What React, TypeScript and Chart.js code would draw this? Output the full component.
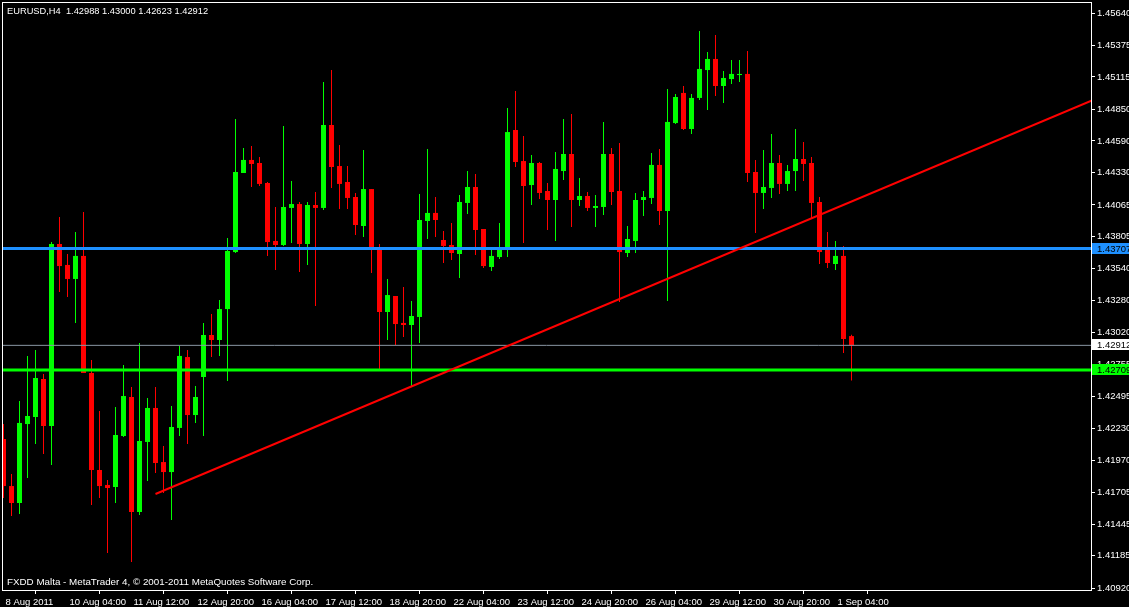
import React, { useEffect, useRef } from 'react';
import { Chart, registerables } from 'chart.js';

Chart.register(...registerables);

const SYMBOL = 'EURUSD,H4';
const FOOTER = 'FXDD Malta - MetaTrader 4, \u00a9 2001-2011 MetaQuotes Software Corp.';

const opens = [
  1.42143, 1.41757, 1.41618, 1.42266, 1.42324, 1.42636, 1.42250, 1.43744, 1.43572, 1.43457,
  1.43646, 1.42685, 1.41889, 1.41766, 1.41749, 1.42168, 1.42488, 1.41544, 1.42119, 1.42398,
  1.41954, 1.41872, 1.42234, 1.42816, 1.42340, 1.42652, 1.42997, 1.42956, 1.43210, 1.43678,
  1.44327, 1.44434, 1.44409, 1.44245, 1.43769, 1.43736, 1.44040, 1.44072, 1.43744, 1.44064,
  1.44040, 1.44721, 1.44384, 1.44253, 1.44130, 1.43892, 1.44195, 1.43703, 1.43186, 1.43317,
  1.43096, 1.43079, 1.43145, 1.43933, 1.43999, 1.43777, 1.43736, 1.43662, 1.44081, 1.44212,
  1.43867, 1.43555, 1.43637, 1.43711, 1.44680, 1.44425, 1.44228, 1.44409, 1.44179, 1.44105,
  1.44343, 1.44483, 1.44105, 1.44138, 1.44040, 1.44048, 1.44483, 1.44179, 1.43670, 1.43769,
  1.44105, 1.44122, 1.44393, 1.44015, 1.44737, 1.44984, 1.44688, 1.44943, 1.45172, 1.45263,
  1.45041, 1.45098, 1.45131, 1.45140, 1.44335, 1.44163, 1.44204, 1.44409, 1.44237, 1.44343,
  1.44442, 1.44409, 1.44089, 1.43695, 1.43580, 1.43646, 1.42988,
];

const highs = [
  1.42266, 1.41856, 1.42455, 1.42825, 1.42874, 1.42677, 1.43760, 1.43966, 1.43662, 1.43843,
  1.44007, 1.42792, 1.42373, 1.41807, 1.42406, 1.42751, 1.42570, 1.42931, 1.42480, 1.42570,
  1.42086, 1.42414, 1.42907, 1.42874, 1.42578, 1.43096, 1.43169, 1.43284, 1.43793, 1.44770,
  1.44532, 1.44549, 1.44458, 1.44253, 1.44048, 1.44713, 1.44261, 1.44089, 1.44089, 1.44171,
  1.45074, 1.45172, 1.44557, 1.44384, 1.44163, 1.44516, 1.44195, 1.43744, 1.43457, 1.43317,
  1.43391, 1.43276, 1.44155, 1.44524, 1.44130, 1.43851, 1.43916, 1.44146, 1.44343, 1.44319,
  1.43867, 1.43695, 1.43916, 1.44860, 1.45000, 1.44631, 1.44475, 1.44417, 1.44245, 1.44499,
  1.44770, 1.44811, 1.44286, 1.44171, 1.44146, 1.44746, 1.44532, 1.44573, 1.43892, 1.44163,
  1.44179, 1.44491, 1.44524, 1.45016, 1.44975, 1.45041, 1.44975, 1.45493, 1.45320, 1.45460,
  1.45164, 1.45254, 1.45254, 1.45328, 1.44434, 1.44516, 1.44647, 1.44475, 1.44393, 1.44688,
  1.44581, 1.44458, 1.44130, 1.43843, 1.43769, 1.43728, 1.43000,
];

const lows = [
  1.41659, 1.41511, 1.41528, 1.41823, 1.42102, 1.42020, 1.41930, 1.43350, 1.43309, 1.43096,
  1.42685, 1.41602, 1.41659, 1.41207, 1.41618, 1.42160, 1.41134, 1.41519, 1.41799, 1.41864,
  1.41700, 1.41478, 1.42168, 1.42102, 1.42275, 1.42168, 1.42816, 1.42825, 1.42619, 1.43670,
  1.44327, 1.44212, 1.44220, 1.43646, 1.43531, 1.43728, 1.43752, 1.43514, 1.43572, 1.43235,
  1.44023, 1.44204, 1.44031, 1.44031, 1.43818, 1.43801, 1.43506, 1.42710, 1.42956, 1.42915,
  1.42981, 1.42578, 1.42931, 1.43785, 1.43801, 1.43588, 1.43613, 1.43465, 1.43990, 1.43654,
  1.43547, 1.43522, 1.43621, 1.43637, 1.44376, 1.43752, 1.44064, 1.44113, 1.43859, 1.43769,
  1.44269, 1.43884, 1.44056, 1.44015, 1.43884, 1.43982, 1.44064, 1.43268, 1.43637, 1.43670,
  1.43974, 1.44072, 1.43900, 1.43276, 1.44729, 1.44680, 1.44647, 1.44926, 1.44844, 1.44959,
  1.44902, 1.45057, 1.45074, 1.44253, 1.43834, 1.44031, 1.44122, 1.44155, 1.44179, 1.44179,
  1.44261, 1.43957, 1.43580, 1.43547, 1.43531, 1.42849, 1.42623,
];

const closes = [
  1.41757, 1.41618, 1.42275, 1.42332, 1.42644, 1.42250, 1.43744, 1.43563, 1.43457, 1.43646,
  1.42685, 1.41889, 1.41757, 1.41741, 1.42176, 1.42496, 1.41544, 1.42127, 1.42398, 1.41946,
  1.41872, 1.42242, 1.42825, 1.42340, 1.42488, 1.42997, 1.42956, 1.43210, 1.43687, 1.44335,
  1.44434, 1.44401, 1.44237, 1.43760, 1.43736, 1.44048, 1.44072, 1.43744, 1.44064, 1.44040,
  1.44721, 1.44376, 1.44237, 1.44122, 1.43900, 1.44195, 1.43711, 1.43186, 1.43325, 1.43087,
  1.43079, 1.43153, 1.43941, 1.43999, 1.43941, 1.43728, 1.43670, 1.44089, 1.44212, 1.43859,
  1.43563, 1.43646, 1.43711, 1.44663, 1.44417, 1.44220, 1.44409, 1.44163, 1.44105, 1.44360,
  1.44483, 1.44105, 1.44138, 1.44040, 1.44056, 1.44483, 1.44171, 1.43678, 1.43785, 1.44105,
  1.44130, 1.44393, 1.44015, 1.44746, 1.44951, 1.44688, 1.44943, 1.45181, 1.45263, 1.45041,
  1.45107, 1.45140, 1.45140, 1.44327, 1.44163, 1.44212, 1.44409, 1.44237, 1.44343, 1.44442,
  1.44401, 1.44081, 1.43678, 1.43588, 1.43646, 1.42964, 1.42912,
];

const priceTicks = [
  1.4564, 1.45375, 1.45115, 1.4485, 1.4459, 1.4433, 1.44065, 1.43805, 1.4354, 1.4328,
  1.4302, 1.42755, 1.42495, 1.4223, 1.4197, 1.41705, 1.41445, 1.41185, 1.4092,
];

const dateTickBars = [0, 8, 16, 24, 32, 40, 48, 56, 64, 72, 80, 88, 96, 104];
const dateLabels = [
  '8 Aug 2011', '10 Aug 04:00', '11 Aug 12:00', '12 Aug 20:00', '16 Aug 04:00',
  '17 Aug 12:00', '18 Aug 20:00', '22 Aug 04:00', '23 Aug 12:00', '24 Aug 20:00',
  '26 Aug 04:00', '29 Aug 12:00', '30 Aug 20:00', '1 Sep 04:00',
];

const blueLevel = 1.43707;
const greenLevel = 1.42709;
const bidLevel = 1.42912;
const trendStart = { bar: 19, price: 1.41692 };
const trendEnd = { bar: 136, price: 1.4492 };

const yMin = 1.409037;
const yMax = 1.457306;
const xMin = -0.1875;
const xMax = 135.9375;

const UP = '#00ff00';
const DOWN = '#ff0000';
const BLUE = '#1e90ff';
const BID = '#8a96a3';
const FONT = '"Liberation Sans", Arial, sans-serif';

const overlayPlugin = {
  id: 'mt4Overlay',
  afterDraw(chart: any) {
    const { ctx, chartArea: a, scales } = chart;
    const ys = scales.y;
    ctx.save();
    ctx.strokeStyle = '#ffffff';
    ctx.lineWidth = 1;
    ctx.strokeRect(a.left + 0.5, a.top + 0.5, a.right - a.left, a.bottom - a.top);

    ctx.fillStyle = '#ffffff';
    ctx.textAlign = 'left';
    ctx.textBaseline = 'alphabetic';
    const last = opens.length - 1;
    const title = `${SYMBOL}  ${opens[last].toFixed(5)} ${highs[last].toFixed(5)} ${lows[last].toFixed(5)} ${closes[last].toFixed(5)}`;
    ctx.font = `9.3px ${FONT}`;
    ctx.fillText(title, 7, 14);
    ctx.font = `9.8px ${FONT}`;
    ctx.fillText(FOOTER, 7, 585);

    const boxes: [number, string][] = [
      [blueLevel, BLUE],
      [bidLevel, '#ffffff'],
      [greenLevel, UP],
    ];
    ctx.font = `9.5px ${FONT}`;
    ctx.textBaseline = 'middle';
    for (const [lvl, bg] of boxes) {
      const py = Math.round(ys.getPixelForValue(lvl));
      ctx.fillStyle = bg;
      ctx.fillRect(a.right + 1, py - 6, 40, 11);
      ctx.fillStyle = '#000000';
      ctx.fillText(lvl.toFixed(5), a.right + 6, py);
    }
    ctx.restore();
  },
};

export default function App() {
  const ref = useRef<HTMLCanvasElement>(null);

  useEffect(() => {
    document.body.style.margin = '0';
    document.body.style.background = '#000';
    const bars = opens.map((_, i) => i);
    const colors = bars.map((i) => (closes[i] >= opens[i] ? UP : DOWN));

    const chart = new Chart(ref.current as HTMLCanvasElement, {
      type: 'bar',
      data: {
        datasets: [
          {
            type: 'line',
            order: 0,
            data: [
              { x: trendStart.bar, y: trendStart.price },
              { x: trendEnd.bar, y: trendEnd.price },
            ],
            borderColor: DOWN,
            borderWidth: 2,
            pointRadius: 0,
            fill: false,
          } as any,
          {
            type: 'line',
            order: 0,
            data: [{ x: xMin, y: blueLevel }, { x: xMax, y: blueLevel }],
            borderColor: BLUE,
            borderWidth: 3,
            pointRadius: 0,
            fill: false,
          } as any,
          {
            type: 'line',
            order: 0,
            data: [{ x: xMin, y: greenLevel }, { x: xMax, y: greenLevel }],
            borderColor: UP,
            borderWidth: 3,
            pointRadius: 0,
            fill: false,
          } as any,
          {
            type: 'line',
            order: 0,
            data: [{ x: xMin, y: bidLevel }, { x: xMax, y: bidLevel }],
            borderColor: BID,
            borderWidth: 1,
            pointRadius: 0,
            fill: false,
          } as any,
          {
            type: 'bar',
            order: 1,
            data: bars.map((i) => ({ x: i, y: [opens[i], closes[i]] })),
            backgroundColor: colors,
            borderWidth: 0,
            barThickness: 5,
            minBarLength: 1,
            grouped: false,
            inflateAmount: 0,
          } as any,
          {
            type: 'bar',
            order: 2,
            data: bars.map((i) => ({ x: i, y: [lows[i], highs[i]] })),
            backgroundColor: colors,
            borderWidth: 0,
            barThickness: 1,
            minBarLength: 1,
            grouped: false,
            inflateAmount: 0,
          } as any,
        ],
      },
      options: {
        responsive: false,
        animation: false,
        devicePixelRatio: 1,
        layout: { padding: { left: 2, top: 2, right: 0, bottom: 0 } },
        plugins: {
          legend: { display: false },
          tooltip: { enabled: false },
        },
        scales: {
          x: {
            type: 'linear',
            min: xMin,
            max: xMax,
            offset: false,
            afterBuildTicks: (s: any) => {
              s.ticks = dateTickBars.map((v) => ({ value: v }));
            },
            afterFit: (s: any) => {
              s.height = 17;
              s.paddingLeft = 0;
              s.paddingRight = 0;
              s.paddingTop = 0;
              s.paddingBottom = 0;
            },
            grid: { drawOnChartArea: false, drawTicks: true, tickLength: 4, tickColor: '#ffffff', color: '#ffffff' },
            border: { display: false },
            ticks: {
              color: '#ffffff',
              font: { family: FONT, size: 9.5 },
              padding: 3,
              autoSkip: false,
              maxRotation: 0,
              minRotation: 0,
              align: 'start',
              labelOffset: 2,
              callback: (_v: any, i: number) => dateLabels[i],
            },
          },
          y: {
            type: 'linear',
            position: 'right',
            min: yMin,
            max: yMax,
            beginAtZero: false,
            afterBuildTicks: (s: any) => {
              s.ticks = priceTicks.map((v) => ({ value: v }));
            },
            afterFit: (s: any) => {
              s.width = 38;
              s.paddingTop = 0;
              s.paddingBottom = 0;
              s.paddingLeft = 0;
              s.paddingRight = 0;
            },
            grid: { drawOnChartArea: false, drawTicks: true, tickLength: 4, tickColor: '#ffffff', color: '#ffffff' },
            border: { display: false },
            ticks: {
              color: '#ffffff',
              font: { family: FONT, size: 9.5 },
              padding: 2,
              autoSkip: false,
              callback: (v: any) => Number(v).toFixed(5),
            },
          },
        },
      } as any,
      plugins: [overlayPlugin],
    });
    return () => chart.destroy();
  }, []);

  return (
    <div style={{ position: 'fixed', left: 0, top: 0, width: 1129, height: 607, background: '#000' }}>
      <canvas ref={ref} width={1129} height={607} style={{ display: 'block', width: 1129, height: 607 }} />
    </div>
  );
}
